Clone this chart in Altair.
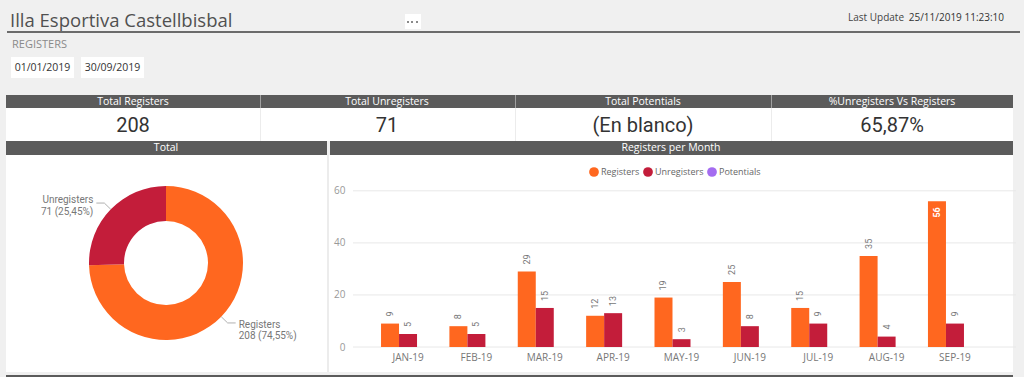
import math
import altair as alt
import pandas as pd

# ---------------- data ----------------
months = ["JAN-19", "FEB-19", "MAR-19", "APR-19", "MAY-19", "JUN-19", "JUL-19", "AUG-19", "SEP-19"]
registers = [9, 8, 29, 12, 19, 25, 15, 35, 56]
unregisters = [5, 5, 15, 13, 3, 8, 9, 4, 9]
series = ["Registers", "Unregisters", "Potentials"]
y_ticks = [0, 20, 40, 60]

donut_cats = ["Registers", "Unregisters"]
donut_vals = [208, 71]

kpi_titles = ["Total Registers", "Total Unregisters", "Total Potentials", "%Unregisters Vs Registers"]
kpi_values = ["208", "71", "(En blanco)", "65,87%"]

page_title = "Illa Esportiva Castellbisbal"
page_subtitle = "REGISTERS"
date_from = "01/01/2019"
date_to = "30/09/2019"
update_label = "Last Update"
update_value = "25/11/2019 11:23:10"
panel_titles = ["Total", "Registers per Month"]

# ---------------- styles ----------------
COLORS = ["#FF671F", "#C31D3A", "#A46CF0"]
DARK = "#5b5b5b"
SEGOE = "Open Sans"
DIN = "Roboto"
W, H = 1024, 377

one = alt.Data(values=[{}])


def rect(x1, x2, y1, y2, color):
    return alt.Chart(one).mark_rect(color=color).encode(
        x=alt.value(x1), x2=alt.value(x2), y=alt.value(y1), y2=alt.value(y2))


def rule(x1, y1, x2, y2, color="#b0b0b0"):
    return alt.Chart(one).mark_rule(color=color, strokeWidth=1).encode(
        x=alt.value(x1), x2=alt.value(x2), y=alt.value(y1), y2=alt.value(y2))


def text(t, x, y, size, color, align="left", font=SEGOE, weight="normal", baseline="middle"):
    return alt.Chart(one).mark_text(text=t, align=align, baseline=baseline, fontSize=size,
                                    color=color, font=font, fontWeight=weight).encode(
        x=alt.value(x), y=alt.value(y))


layers = []
# ---- chrome ----
layers += [
    rect(7, 1020, 31, 33, "#6b6b6b"),
    rect(405, 421, 14, 29, "white"),
    rect(407, 409, 21, 23, "#8a8a8a"), rect(411, 413, 21, 23, "#8a8a8a"), rect(416, 418, 21, 23, "#8a8a8a"),
    rect(11, 74, 57, 78, "white"),
    rect(81, 144, 57, 78, "white"),
    rect(6, 1013, 95, 108, DARK),
    rect(6, 1013, 108, 141, "white"),
    rect(6, 327, 141, 155, DARK),
    rect(330, 1013, 141, 155, DARK),
    rect(6, 1013, 155, 372, "white"),
    rect(327, 329, 155, 372, "#ececec"),
    rect(6, 1013, 375, 377, DARK),
]
for xd in [260, 515, 771]:
    layers += [rect(xd, xd + 1, 95, 108, "#a0a0a0"), rect(xd, xd + 1, 108, 141, "#ececec")]

layers += [
    text(page_title, 10, 27, 18.5, "#505050", baseline="alphabetic"),
    text(page_subtitle, 12, 45, 11, "#8a8a8a"),
    text(date_from, 42.5, 67.5, 10.5, "#333333", align="center"),
    text(date_to, 112.5, 67.5, 10.5, "#333333", align="center"),
    text(update_label, 904, 18, 10, "#444444", align="right"),
    text(update_value, 1004, 18, 10, "#333333", align="right"),
]
kpi_centers = [133, 387, 643, 892]
for t, v, cx in zip(kpi_titles, kpi_values, kpi_centers):
    layers.append(text(t, cx, 101.5, 10.5, "white", align="center"))
    layers.append(text(v, cx, 126, 20, "#333333", align="center", font=DIN))
layers.append(text(panel_titles[0], 166, 148, 10.5, "white", align="center"))
layers.append(text(panel_titles[1], 671, 148, 10.5, "white", align="center"))

# ---- shared colour encoding ----
color_enc = alt.Color(
    "series:N",
    scale=alt.Scale(domain=series, range=COLORS),
    legend=alt.Legend(orient="none", legendX=589, legendY=167, direction="horizontal", title=None,
                      symbolType="circle", symbolSize=95, symbolStrokeWidth=0, labelFontSize=9,
                      labelFont=SEGOE, labelColor="#666666", labelOffset=2, columnPadding=3),
)

# ---- donut ----
CX, CY, R_OUT, R_IN = 166, 263, 77, 42
total = sum(donut_vals)
labels_l, labels_r, mids = [], [], []
cum = 0
for c, v in zip(donut_cats, donut_vals):
    mid = (cum + v / 2) / total * 2 * math.pi
    cum += v
    mids.append(mid)
    pct = f"{v / total * 100:.2f}".replace(".", ",")
    lab = f"{c}\n{v} ({pct}%)"
    left = math.sin(mid) < 0
    labels_l.append(lab if left else "")
    labels_r.append("" if left else lab)

donut_df = pd.DataFrame({"series": donut_cats, "value": donut_vals, "ord": list(range(len(donut_cats))),
                         "lab_l": labels_l, "lab_r": labels_r})

theta_enc = alt.Theta("value:Q", stack=True)
layers.append(
    alt.Chart(donut_df).mark_arc(radius=R_OUT, radius2=R_IN).encode(
        theta=theta_enc, color=color_enc, order=alt.Order("ord:Q"),
        x=alt.value(CX), y=alt.value(CY))
)
for m in mids:
    s, c = math.sin(m), math.cos(m)
    x0, y0 = CX + R_OUT * s, CY - R_OUT * c
    x1, y1 = CX + 86 * s, CY - 86 * c
    x2 = x1 + (8 if s > 0 else -8)
    layers.append(rule(x0, y0, x1, y1))
    layers.append(rule(x1, y1, x2, y1))

for fld, align, dx, dy in [("lab_l", "right", -11, -3), ("lab_r", "left", 11, 2)]:
    layers.append(
        alt.Chart(donut_df).mark_text(radius=86, align=align, baseline="middle", dx=dx, dy=dy, lineBreak="\n",
                                      lineHeight=11.5, fontSize=10, font=DIN, color="#777777").encode(
            theta=theta_enc, order=alt.Order("ord:Q"), detail="series:N", text=f"{fld}:N",
            x=alt.value(CX), y=alt.value(CY))
    )

# ---- bars ----
bar_rows = []
for m, r, u in zip(months, registers, unregisters):
    bar_rows.append({"month": m, "series": "Registers", "value": r})
    bar_rows.append({"month": m, "series": "Unregisters", "value": u})
bars_df = pd.DataFrame(bar_rows)

x_enc = alt.X("month:N", scale=alt.Scale(domain=months, range=[353, 1010], paddingInner=0.21, paddingOuter=0.41),
              axis=alt.Axis(orient="bottom", offset=-30, title=None, domain=False, ticks=False, labelAngle=0,
                            labelPadding=5, labelFont=SEGOE, labelFontSize=10, labelColor="#777777", grid=False,
                            zindex=2))
xo_enc = alt.XOffset("series:N", scale=alt.Scale(domain=series, paddingInner=0, paddingOuter=0))
y_scale = alt.Scale(domain=[0, 68], range=[347, 170], nice=False, zero=True)
y_enc = alt.Y("value:Q", scale=y_scale,
              axis=alt.Axis(orient="left", offset=-353, values=y_ticks, title=None, domain=False, ticks=False,
                            labelPadding=8, grid=False, labelColor="#999999",
                            labelFont=SEGOE, labelFontSize=10, zindex=2))

# gridlines through the shared y scale
grid_df = pd.DataFrame({"value": y_ticks})
layers.append(
    alt.Chart(grid_df).mark_rule(color="#e8e8e8", strokeWidth=1).encode(
        y=y_enc, x=alt.value(353), x2=alt.value(1016))
)

base = alt.Chart(bars_df)
layers.append(base.mark_bar().encode(x=x_enc, xOffset=xo_enc, y=y_enc, color=color_enc))
layers.append(
    base.transform_filter("datum.value < 50").mark_text(angle=270, align="left", baseline="middle", dx=7,
                                                         fontSize=9, font=DIN, color="#777777").encode(
        x=x_enc, xOffset=xo_enc, y=y_enc, text="value:Q")
)
layers.append(
    base.transform_filter("datum.value >= 50").mark_text(angle=270, align="right", baseline="middle", dx=-6,
                                                          fontSize=9, font=DIN, color="white",
                                                          fontWeight="bold").encode(
        x=x_enc, xOffset=xo_enc, y=y_enc, text="value:Q")
)

chart = alt.layer(*layers).properties(
    width=W, height=H, autosize=alt.AutoSizeParams(type="none"), padding=0,
).configure(background="#f0f0f0").configure_view(stroke=None)

chart.save("out.html", embed_options={"renderer": "svg", "actions": False})
